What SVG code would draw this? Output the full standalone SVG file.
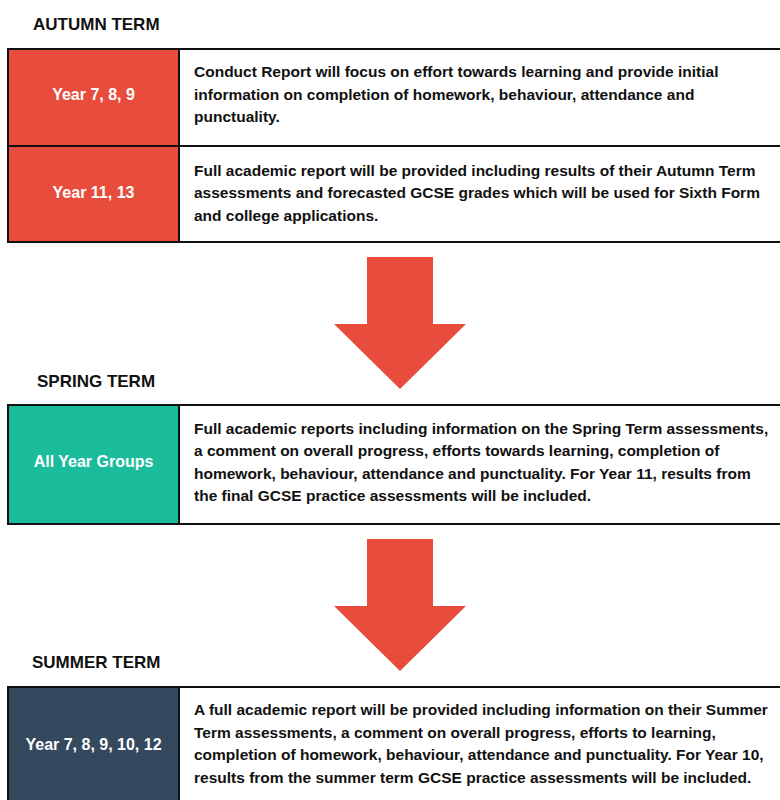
<svg xmlns="http://www.w3.org/2000/svg" width="780" height="800" viewBox="0 0 780 800">
<style>
.head{font-family:"Liberation Sans",Arial,sans-serif;font-weight:bold;font-size:17px;fill:#111}
.lbl{font-family:"Liberation Sans",Arial,sans-serif;font-weight:bold;font-size:16px;fill:#fff;text-anchor:middle}
.body{font-family:"Liberation Sans",Arial,sans-serif;font-weight:bold;font-size:15.5px;fill:#111}
.ln{stroke:#111;stroke-width:2;fill:none}
.arrow{fill:#E74C3C}
</style>
<rect width="780" height="800" fill="#fff"/>

<g id="autumn">
<text class="head" x="33" y="30">AUTUMN TERM</text>
<g id="autumn-y789">
<rect x="9" y="49" width="170" height="97" fill="#E74C3C"/>
<text class="lbl" x="93.5" y="100">Year 7, 8, 9</text>
<text class="body" x="194" y="77">Conduct Report will focus on effort towards learning and provide initial</text>
<text class="body" x="194" y="99.5">information on completion of homework, behaviour, attendance and</text>
<text class="body" x="194" y="122">punctuality.</text>
</g>
<g id="autumn-y1113">
<rect x="9" y="146" width="170" height="96" fill="#E74C3C"/>
<text class="lbl" x="93.5" y="197.5">Year 11, 13</text>
<text class="body" x="194" y="175.5">Full academic report will be provided including results of their Autumn Term</text>
<text class="body" x="194" y="198">assessments and forecasted GCSE grades which will be used for Sixth Form</text>
<text class="body" x="194" y="220.5">and college applications.</text>
</g>
<path class="ln" d="M8 49H780M8 146H780M8 242H780M8 48V243M179 48V243"/>
</g>

<g id="spring">
<text class="head" x="37" y="387">SPRING TERM</text>
<rect x="9" y="405" width="170" height="119" fill="#1ABC9C"/>
<text class="lbl" x="93.5" y="467">All Year Groups</text>
<text class="body" x="194" y="433.5">Full academic reports including information on the Spring Term assessments,</text>
<text class="body" x="194" y="456">a comment on overall progress, efforts towards learning, completion of</text>
<text class="body" x="194" y="478.5">homework, behaviour, attendance and punctuality. For Year 11, results from</text>
<text class="body" x="194" y="501">the final GCSE practice assessments will be included.</text>
<path class="ln" d="M8 405H780M8 524H780M8 404V525M179 404V525"/>
</g>

<g id="summer">
<text class="head" x="32" y="668">SUMMER TERM</text>
<rect x="9" y="687" width="170" height="113" fill="#34495E"/>
<text class="lbl" x="93.5" y="749.5">Year 7, 8, 9, 10, 12</text>
<text class="body" x="194" y="715">A full academic report will be provided including information on their Summer</text>
<text class="body" x="194" y="737.5">Term assessments, a comment on overall progress, efforts to learning,</text>
<text class="body" x="194" y="760">completion of homework, behaviour, attendance and punctuality. For Year 10,</text>
<text class="body" x="194" y="782.5">results from the summer term GCSE practice assessments will be included.</text>
<path class="ln" d="M8 687H780M8 686V800M179 686V800"/>
</g>

<g id="connectors">
<polygon class="arrow" points="367,257 433,257 433,324 466,324 400,389 334,324 367,324"/>
<polygon class="arrow" points="367,539 433,539 433,606 466,606 400,671 334,606 367,606"/>
</g>
</svg>
